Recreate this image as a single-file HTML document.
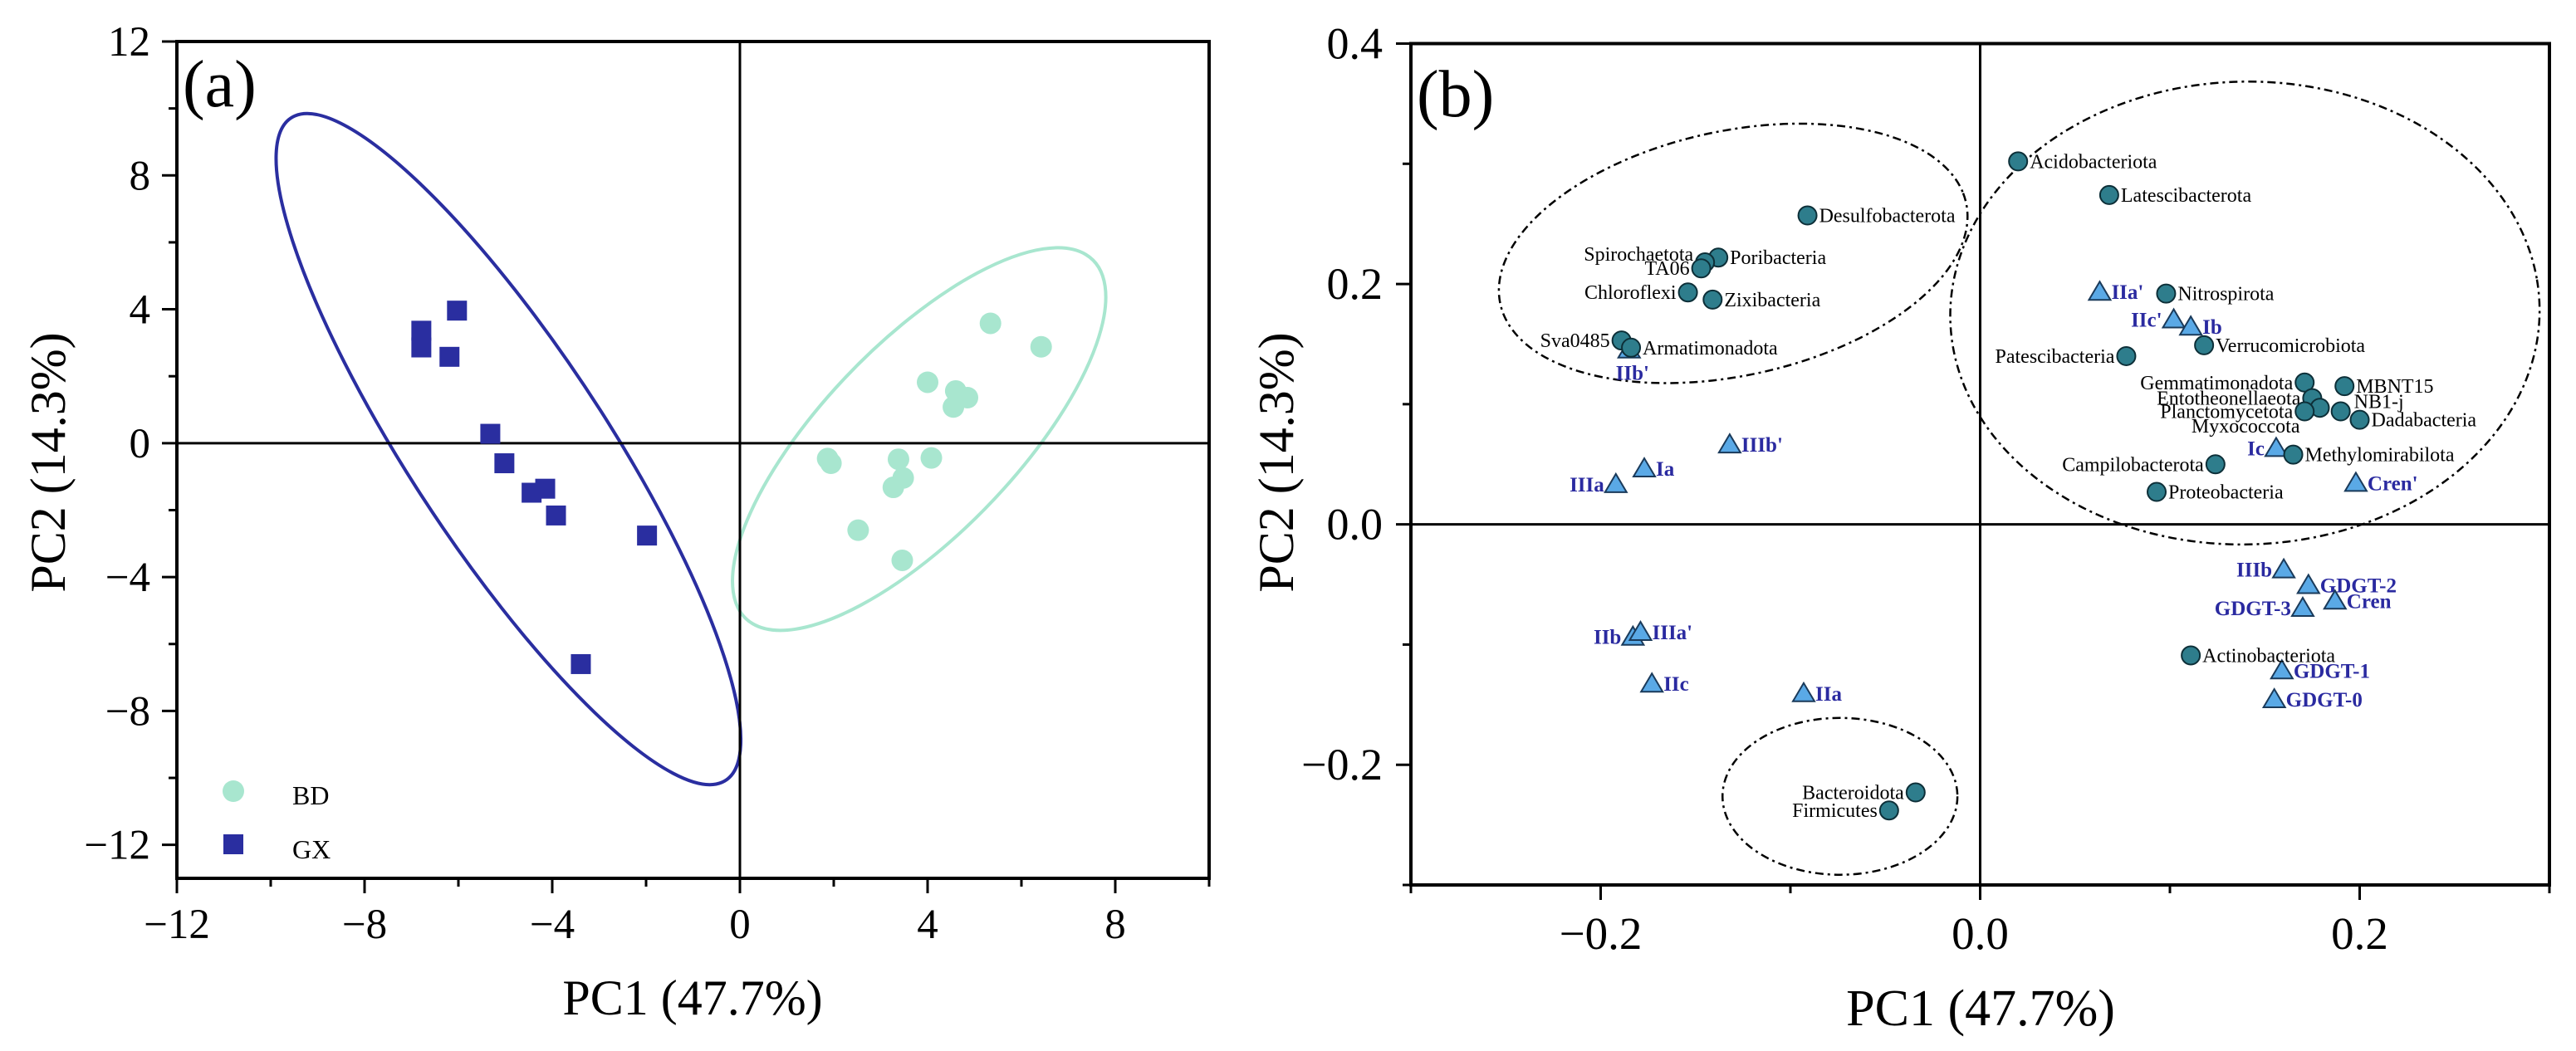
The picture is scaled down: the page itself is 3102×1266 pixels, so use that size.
<!DOCTYPE html>
<html><head><meta charset="utf-8"><style>
html,body{margin:0;padding:0;background:#fff;overflow:hidden;}
svg{display:block;font-family:"Liberation Serif",serif;}
</style></head><body>
<svg id="chart" width="3102" height="1266" viewBox="0 0 3102 1266" xmlns="http://www.w3.org/2000/svg">
<g id="pa"></g>
<g id="pb"></g>
</svg>
<script>
// ---------- Panel A data ----------
const gxX = [-6.79,-6.79,-6.03,-6.19,-5.32,-5.02,-4.44,-4.15,-3.92,-1.98,-3.39];
const gxY = [3.36,2.86,3.96,2.58,0.28,-0.6,-1.48,-1.36,-2.16,-2.76,-6.6];
const bdX = [5.34,6.42,4.0,4.6,4.85,4.55,1.87,1.94,3.38,4.08,3.48,3.27,2.52,3.46];
const bdY = [3.58,2.88,1.82,1.56,1.36,1.08,-0.46,-0.6,-0.48,-0.44,-1.04,-1.32,-2.6,-3.5];
const aTicks = [-12,-8,-4,0,4,8];
const aYTicks = [12,8,4,0,-4,-8,-12];
// ---------- Panel B data ----------
const taxaNames = ["Acidobacteriota","Latescibacterota","Desulfobacterota","Poribacteria","Spirochaetota","TA06","Chloroflexi","Zixibacteria","Sva0485","Armatimonadota","Nitrospirota","Verrucomicrobiota","Patescibacteria","Gemmatimonadota","MBNT15","Entotheonellaeota","Myxococcota","Planctomycetota","NB1-j","Dadabacteria","Methylomirabilota","Campilobacterota","Proteobacteria","Actinobacteriota","Bacteroidota","Firmicutes"];
const taxaX = [0.020,0.068,-0.091,-0.138,-0.145,-0.147,-0.154,-0.141,-0.189,-0.184,0.098,0.118,0.077,0.171,0.192,0.175,0.179,0.171,0.190,0.200,0.165,0.124,0.093,0.111,-0.034,-0.048];
const taxaY = [0.302,0.274,0.257,0.222,0.218,0.213,0.193,0.187,0.153,0.147,0.192,0.149,0.140,0.118,0.115,0.105,0.097,0.094,0.094,0.087,0.058,0.050,0.027,-0.109,-0.223,-0.238];
const taxaSide = ["r","r","r","r","lu","l","l","r","l","r","r","r","l","l","r","l","lb","l","ru","r","r","l","r","r","l","l"];
const lipidNames = ["IIa'","IIc'","Ib","IIb'","IIIb'","Ia","IIIa","Ic","Cren'","IIIb","GDGT-2","Cren","GDGT-3","IIb","IIIa'","IIc","IIa","GDGT-1","GDGT-0"];
const lipidX = [0.063,0.102,0.111,-0.185,-0.132,-0.177,-0.192,0.156,0.198,0.160,0.173,0.187,0.170,-0.183,-0.179,-0.173,-0.093,0.159,0.155];
const lipidY = [0.193,0.170,0.164,0.145,0.066,0.046,0.033,0.063,0.034,-0.038,-0.051,-0.064,-0.070,-0.094,-0.090,-0.133,-0.141,-0.122,-0.146];
const lipidSide = ["r","l","r","b","r","r","l","l","r","l","r","r","l","l","r","r","r","r","r"];
const bTicks = [-0.2,0.0,0.2];
const bYTicks = [0.4,0.2,0.0,-0.2];

const NS="http://www.w3.org/2000/svg";
const SX=1/1.011, SY=1/1.2385;
function mk(parent,tag,attrs,text){const e=document.createElementNS(NS,tag);for(const k in attrs)e.setAttribute(k,attrs[k]);if(text!==undefined)e.textContent=text;parent.appendChild(e);return e;}
function fmtA(v){return v<0?"\u2212"+Math.abs(v):String(v);}
function fmtB(v){return v<0?"\u2212"+Math.abs(v).toFixed(1):v.toFixed(1);}

// ---------- Panel A ----------
const pa=document.getElementById('pa');
const A={l:213,r:1456,t:50,b:1058,xmin:-12,xmax:10,ymin:-13,ymax:12};
const ax=v=>A.l+(v-A.xmin)/(A.xmax-A.xmin)*(A.r-A.l);
const ay=v=>A.b-(v-A.ymin)/(A.ymax-A.ymin)*(A.b-A.t);
const ea=mk(pa,'g',{transform:`scale(${SX} ${SY})`});
let e1=mk(ea,'ellipse',{cx:619,cy:670,rx:561,ry:126,transform:'rotate(62.4 619 670)',fill:'none',stroke:'#2a2ea0','stroke-width':4,'vector-effect':'non-scaling-stroke'});


let e2=mk(ea,'ellipse',{cx:1119,cy:655,rx:342,ry:127,transform:'rotate(-53.6 1119 655)',fill:'none',stroke:'#a8e6cf','stroke-width':4,'vector-effect':'non-scaling-stroke'});


mk(pa,'line',{x1:ax(0),x2:ax(0),y1:A.t,y2:A.b,stroke:'#000','stroke-width':3});
mk(pa,'line',{x1:A.l,x2:A.r,y1:ay(0),y2:ay(0),stroke:'#000','stroke-width':3});
let fa=mk(pa,'rect',{x:A.l,y:A.t,width:A.r-A.l,height:A.b-A.t,fill:'none',stroke:'#000','stroke-width':4});


for(let v=-12;v<=10;v+=2){const major=aTicks.includes(v)||v===10&&false;mk(pa,'line',{x1:ax(v),x2:ax(v),y1:A.b,y2:A.b+(major?18:10),stroke:'#000','stroke-width':3});}
aTicks.forEach(v=>{const t=mk(pa,'text',{x:ax(v),y:1130,'font-size':51,'text-anchor':'middle'},fmtA(v));

});
for(let v=-12;v<=12;v+=2){const major=aYTicks.includes(v);mk(pa,'line',{x1:A.l,x2:A.l-(major?18:10),y1:ay(v),y2:ay(v),stroke:'#000','stroke-width':3});}
aYTicks.forEach(v=>{const t=mk(pa,'text',{x:181,y:ay(v)+17,'font-size':51,'text-anchor':'end'},fmtA(v));

});
bdX.forEach((x,i)=>{const c=mk(pa,'circle',{cx:ax(x),cy:ay(bdY[i]),r:13,fill:'#a8e6cf'});

});
gxX.forEach((x,i)=>{const r=mk(pa,'rect',{x:ax(x)-12,y:ay(gxY[i])-12,width:24,height:24,fill:'#2a2ea0'});

});
let lg=mk(pa,'g',{});


mk(lg,'circle',{cx:281,cy:953,r:13,fill:'#a8e6cf'});
let l1=mk(lg,'text',{x:352,y:969,'font-size':32},'BD');


mk(lg,'rect',{x:269,y:1005,width:24,height:24,fill:'#2a2ea0'});
let l2=mk(lg,'text',{x:352,y:1034,'font-size':32},'GX');


let at=mk(pa,'text',{x:220,y:128,'font-size':80},'(a)');


let axt=mk(pa,'text',{x:834,y:1222,'font-size':60,'text-anchor':'middle'},'PC1 (47.7%)');


let ayt=mk(pa,'text',{x:0,y:0,'font-size':60,'text-anchor':'middle',transform:'translate(78 557) rotate(-90)'},'PC2 (14.3%)');



// ---------- Panel B ----------
const pb=document.getElementById('pb');
const B={l:1699,r:3070,t:52.5,b:1066,xmin:-0.3,xmax:0.3,ymin:-0.3,ymax:0.4};
const bx=v=>B.l+(v-B.xmin)/(B.xmax-B.xmin)*(B.r-B.l);
const by=v=>B.b-(v-B.ymin)/(B.ymax-B.ymin)*(B.b-B.t);
const eb=mk(pb,'g',{transform:`translate(1551 0) scale(${SX} ${SY})`});
const dash={fill:'none',stroke:'#000','stroke-width':2.5,'stroke-dasharray':'10 5 3 5','vector-effect':'non-scaling-stroke'};
let g1=mk(eb,'ellipse',Object.assign({cx:542,cy:378,rx:294,ry:180,transform:'rotate(-17.8 542 378)'},dash));


let g2=mk(eb,'ellipse',Object.assign({cx:1165,cy:467,rx:359,ry:345,transform:'rotate(-8 1165 467)'},dash));


let g3=mk(eb,'ellipse',Object.assign({cx:672,cy:1188,rx:143,ry:117},dash));


mk(pb,'line',{x1:bx(0),x2:bx(0),y1:B.t,y2:B.b,stroke:'#000','stroke-width':3});
mk(pb,'line',{x1:B.l,x2:B.r,y1:by(0),y2:by(0),stroke:'#000','stroke-width':3});
let fb=mk(pb,'rect',{x:B.l,y:B.t,width:B.r-B.l,height:B.b-B.t,fill:'none',stroke:'#000','stroke-width':4});


for(let k=-3;k<=3;k++){const v=k/10;const major=bTicks.some(t=>Math.abs(t-v)<1e-9);mk(pb,'line',{x1:bx(v),x2:bx(v),y1:B.b,y2:B.b+(major?18:10),stroke:'#000','stroke-width':3});}
bTicks.forEach(v=>{const t=mk(pb,'text',{x:bx(v),y:1143,'font-size':55,'text-anchor':'middle'},fmtB(v));

});
for(let k=-3;k<=4;k++){const v=k/10;const major=bYTicks.some(t=>Math.abs(t-v)<1e-9);mk(pb,'line',{x1:B.l,x2:B.l-(major?18:10),y1:by(v),y2:by(v),stroke:'#000','stroke-width':3});}
bYTicks.forEach(v=>{const t=mk(pb,'text',{x:1665,y:by(v)+18,'font-size':54,'text-anchor':'end'},fmtB(v));

});
function labelPos(side,x,y){
  if(side==='r')return {x:x+14,y:y+8,a:'start'};
  if(side==='l')return {x:x-14,y:y+8,a:'end'};
  if(side==='lu')return {x:x-14,y:y-2,a:'end'};
  if(side==='lb')return {x:x-24,y:y+30,a:'end'};
  if(side==='ru')return {x:x+16,y:y-4,a:'start'};
  return {x:x+4,y:y+36,a:'middle'};
}
lipidX.forEach((xv,i)=>{const x=bx(xv),y=by(lipidY[i]);
 const p=mk(pb,'polygon',{points:`${x},${y-13} ${x-13},${y+9} ${x+13},${y+9}`,fill:'#5aa9e6',stroke:'#1a3a5a','stroke-width':2});
 
 
 const lp=labelPos(lipidSide[i],x,y);
 const t=mk(pb,'text',{x:lp.x,y:lp.y,'font-size':25,'font-weight':'bold',fill:'#2a2aa0','text-anchor':lp.a},lipidNames[i]);
 
 });
taxaX.forEach((xv,i)=>{const x=bx(xv),y=by(taxaY[i]);
 const c=mk(pb,'circle',{cx:x,cy:y,r:11,fill:'#2e7d8c',stroke:'#0d2f38','stroke-width':2});
 
 
 const lp=labelPos(taxaSide[i],x,y);
 const t=mk(pb,'text',{x:lp.x,y:lp.y,'font-size':24,fill:'#000','text-anchor':lp.a},taxaNames[i]);
 
 });
let bt=mk(pb,'text',{x:1706,y:140,'font-size':80},'(b)');


let bxt=mk(pb,'text',{x:2385,y:1235,'font-size':62,'text-anchor':'middle'},'PC1 (47.7%)');


let byt=mk(pb,'text',{x:0,y:0,'font-size':60,'text-anchor':'middle',transform:'translate(1557 557) rotate(-90)'},'PC2 (14.3%)');


</script>
</body></html>
